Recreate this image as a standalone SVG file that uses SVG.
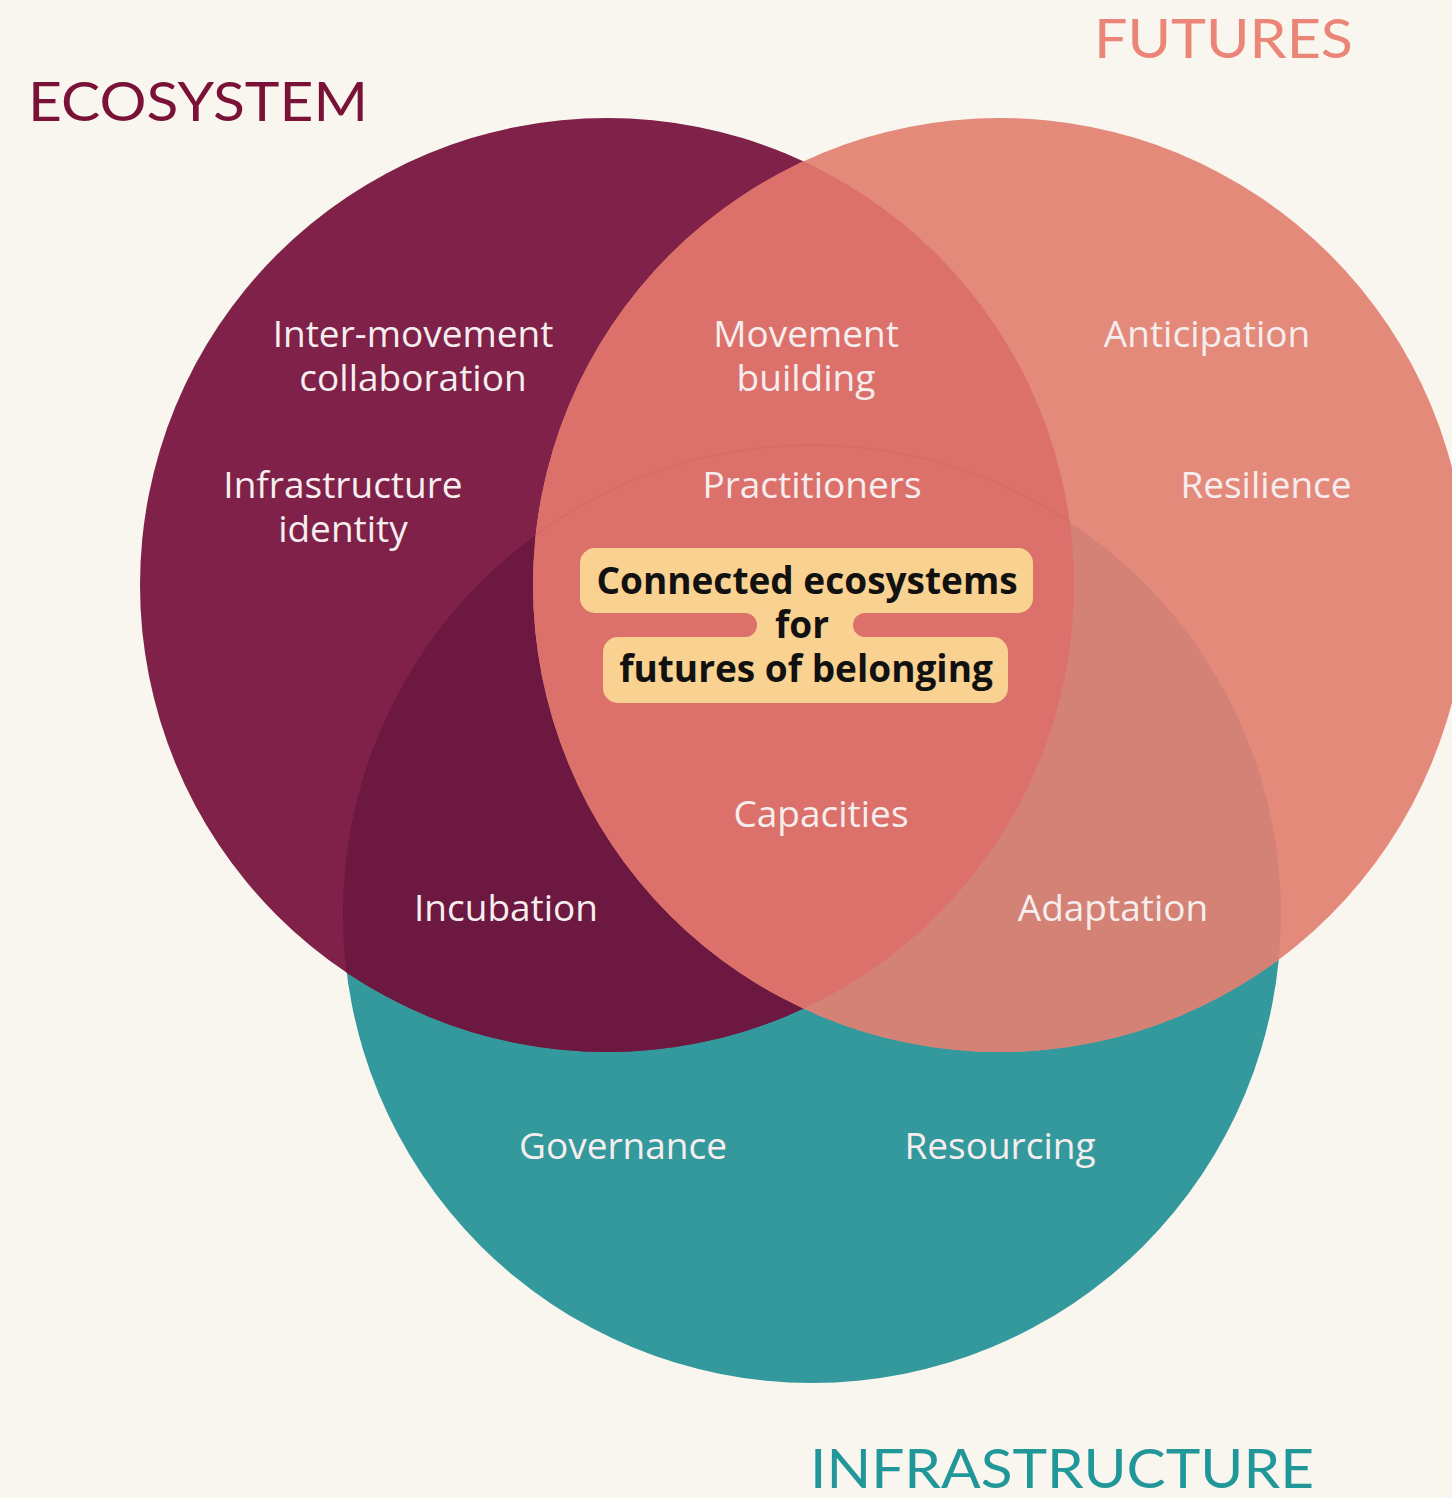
<svg xmlns="http://www.w3.org/2000/svg" width="1452" height="1498" viewBox="0 0 1452 1498">
<defs>
<style>
.lbl{font-family:"Open Sans","Noto Sans","Liberation Sans",sans-serif;font-size:37px;fill:#f6eeee;text-anchor:middle}
.core{font-family:"Open Sans","Noto Sans","Liberation Sans",sans-serif;font-size:37px;font-weight:700;fill:#111;text-anchor:middle}
.title{font-family:"Lato","Noto Sans","Liberation Sans",sans-serif;font-size:55px;font-weight:400}
</style>
<clipPath id="clipEco"><circle cx="607" cy="585" r="467"/></clipPath>
<clipPath id="clipFut"><circle cx="1000" cy="585" r="467"/></clipPath>
<clipPath id="clipInf"><circle cx="812" cy="914" r="469"/></clipPath>
</defs>
<rect width="1452" height="1498" fill="#f9f6ef"/>

<g id="circles">
  <circle id="infrastructure-circle" cx="812" cy="914" r="469" fill="#34999d"/>
  <circle id="ecosystem-circle" cx="607" cy="585" r="467" fill="#7f2148"/>
  <circle id="futures-circle" cx="1000" cy="585" r="467" fill="#e48a7b"/>
  <g clip-path="url(#clipInf)">
    <circle cx="607" cy="585" r="467" fill="#6c1840"/>
    <circle cx="1000" cy="585" r="467" fill="#d48276"/>
  </g>
  <g clip-path="url(#clipEco)">
    <circle cx="1000" cy="585" r="467" fill="#dc716b"/>
    <g clip-path="url(#clipFut)">
      <circle cx="812" cy="914" r="469" fill="none" stroke="#d4675f" stroke-width="2" opacity="0.5"/>
    </g>
  </g>
</g>

<g id="title-ecosystem"><text class="title" x="28" y="121" fill="#7a1238" textLength="340" lengthAdjust="spacingAndGlyphs">ECOSYSTEM</text></g>
<g id="title-futures"><text class="title" x="1094" y="58" fill="#ea8577" textLength="259" lengthAdjust="spacingAndGlyphs">FUTURES</text></g>
<g id="title-infrastructure"><text class="title" x="810" y="1488" fill="#21979a" textLength="504" lengthAdjust="spacingAndGlyphs">INFRASTRUCTURE</text></g>

<g id="node-inter-movement"><text class="lbl" x="413" y="347">Inter-movement</text><text class="lbl" x="413" y="391">collaboration</text></g>
<g id="node-infrastructure-identity"><text class="lbl" x="343" y="498">Infrastructure</text><text class="lbl" x="343" y="542">identity</text></g>
<g id="node-movement-building"><text class="lbl" x="806" y="347">Movement</text><text class="lbl" x="806" y="391">building</text></g>
<g id="node-practitioners"><text class="lbl" x="812" y="498">Practitioners</text></g>
<g id="node-anticipation"><text class="lbl" x="1207" y="347">Anticipation</text></g>
<g id="node-resilience"><text class="lbl" x="1266" y="498">Resilience</text></g>
<g id="node-capacities"><text class="lbl" x="821" y="827">Capacities</text></g>
<g id="node-incubation"><text class="lbl" x="506" y="921">Incubation</text></g>
<g id="node-adaptation"><text class="lbl" x="1113" y="921">Adaptation</text></g>
<g id="node-governance"><text class="lbl" x="623" y="1159">Governance</text></g>
<g id="node-resourcing"><text class="lbl" x="1000" y="1159">Resourcing</text></g>

<g id="node-core">
  <rect x="580" y="548" width="453" height="65" rx="15" fill="#f9d191"/>
  <rect x="603" y="637" width="405" height="66" rx="15" fill="#f9d191"/>
  <rect x="740" y="600" width="130" height="50" fill="#f9d191"/>
  <rect x="620" y="613" width="137" height="24" rx="12" fill="#dc716b"/>
  <rect x="853" y="613" width="160" height="24" rx="12" fill="#dc716b"/>
  <text class="core" x="807" y="594">Connected ecosystems</text>
  <text class="core" x="802" y="638">for</text>
  <text class="core" x="806" y="682">futures of belonging</text>
</g>
<g id="connectors"/>
</svg>
